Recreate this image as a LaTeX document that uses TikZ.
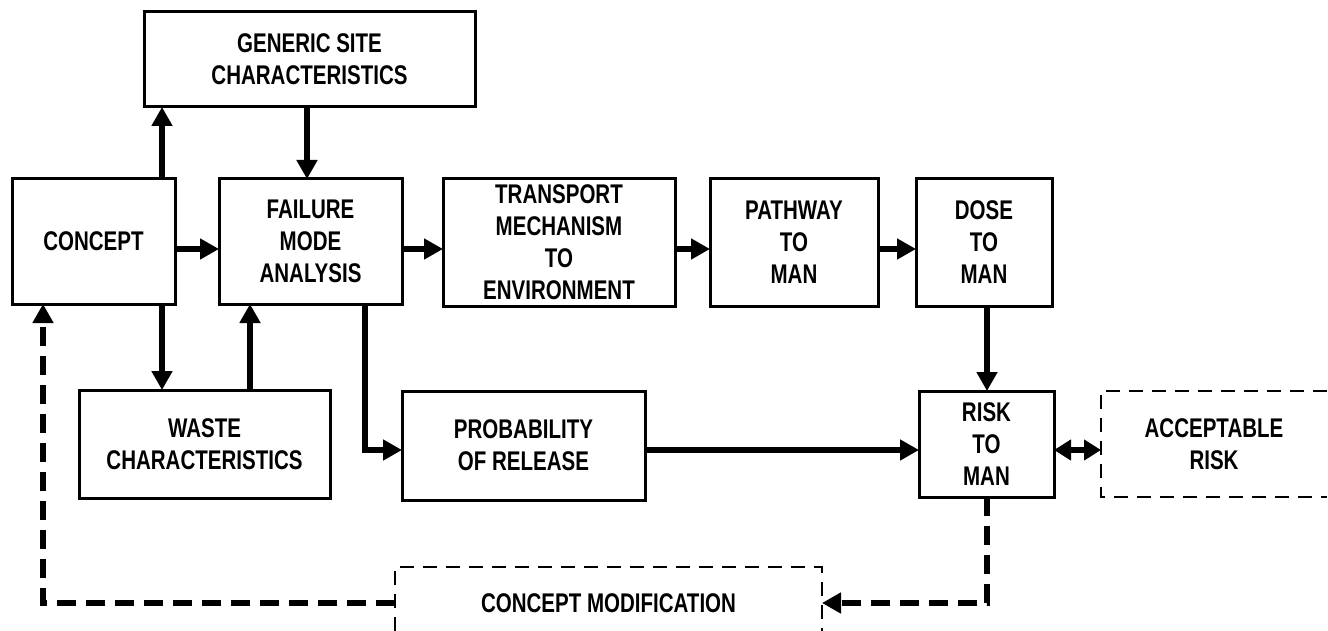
\documentclass[tikz,border=0pt]{standalone}
\usepackage{fontspec}
\setmainfont[FakeStretch=0.76]{Liberation Sans}
\usetikzlibrary{arrows.meta,calc}
\tikzset{
  box/.style={draw, line width=3pt, inner sep=0pt, outer sep=0pt, align=center,
    font=\fontsize{27}{32}\selectfont\bfseries},
  dbox/.style={inner sep=0pt, outer sep=0pt, align=center, font=\fontsize{27}{32}\selectfont\bfseries},
  dborder/.style={line width=2.8pt, dash pattern=on 14pt off 9pt},
  arr/.style={line width=6pt, -{Triangle[width=20pt,length=19pt]}},
  darr/.style={arr, dash pattern=on 19pt off 10pt},
}
\begin{document}
\begin{tikzpicture}[x=1pt,y=-1pt]
\useasboundingbox (0,0) rectangle (1328,631);
% nodes
\node[box, minimum width=331pt, minimum height=95pt] (gsc) at (309.5,59.5) {GENERIC SITE\\CHARACTERISTICS};
\node[box, minimum width=163pt, minimum height=125pt] (concept) at (93.5,241.5) {CONCEPT};
\node[box, minimum width=183pt, minimum height=125pt] (fma) at (310.5,241.5) {FAILURE\\MODE\\ANALYSIS};
\node[box, minimum width=232pt, minimum height=127pt] (trans) at (559,242.5) {TRANSPORT\\MECHANISM\\TO\\ENVIRONMENT};
\node[box, minimum width=168pt, minimum height=127pt] (path) at (794,242.5) {PATHWAY\\TO\\MAN};
\node[box, minimum width=136pt, minimum height=127pt] (dose) at (984,242.5) {DOSE\\TO\\MAN};
\node[box, minimum width=251pt, minimum height=108pt] (waste) at (204.5,444) {WASTE\\CHARACTERISTICS};
\node[box, minimum width=243pt, minimum height=109pt] (prob) at (523.5,445.5) {PROBABILITY\\OF RELEASE};
\node[box, minimum width=135pt, minimum height=106pt] (risk) at (986.5,444) {RISK\\TO\\MAN};
\node[dbox, minimum width=226pt, minimum height=106pt] (acc) at (1214,444) {ACCEPTABLE\\RISK};
\node[dbox, minimum width=427pt, minimum height=72pt] (cmod) at (608.5,603) {CONCEPT MODIFICATION};
% dashed borders (open at picture edge)
\draw[dborder] (acc.north east) -- (acc.north west) -- (acc.south west) -- (acc.south east);
\draw[dborder] (cmod.west |- 0,631) -- (cmod.north west) -- (cmod.north east) -- (cmod.east |- 0,631);
% helper coordinates
\coordinate (c0) at (43,0);
\coordinate (c1) at (162,0);
\coordinate (c2) at (307,0);
\coordinate (c3) at (250,0);
\coordinate (c4) at (365,0);
\coordinate (c5) at (987,0);
\coordinate (r1) at (0,249);
\coordinate (r2) at (0,450);
% connectors
\draw[arr] (concept.north -| c1) -- (gsc.south -| c1);
\draw[arr] (gsc.south -| c2) -- (fma.north -| c2);
\draw[arr] (concept.east |- r1) -- (fma.west |- r1);
\draw[arr] (fma.east |- r1) -- (trans.west |- r1);
\draw[arr] (trans.east |- r1) -- (path.west |- r1);
\draw[arr] (path.east |- r1) -- (dose.west |- r1);
\draw[arr] (concept.south -| c1) -- (waste.north -| c1);
\draw[arr] (waste.north -| c3) -- (fma.south -| c3);
\draw[arr] (fma.south -| c4) |- (prob.west |- r2);
\draw[arr] (prob.east |- r2) -- (risk.west |- r2);
\draw[arr] (dose.south -| c5) -- (risk.north -| c5);
\draw[line width=6pt, {Triangle[width=20pt,length=17pt]}-{Triangle[width=20pt,length=17pt]}] (risk.east |- r2) -- (acc.west |- r2);
\draw[darr] (risk.south -| c5) |- (cmod.east);
\draw[darr] (cmod.west) -| (concept.south -| c0);
\end{tikzpicture}
\end{document}
